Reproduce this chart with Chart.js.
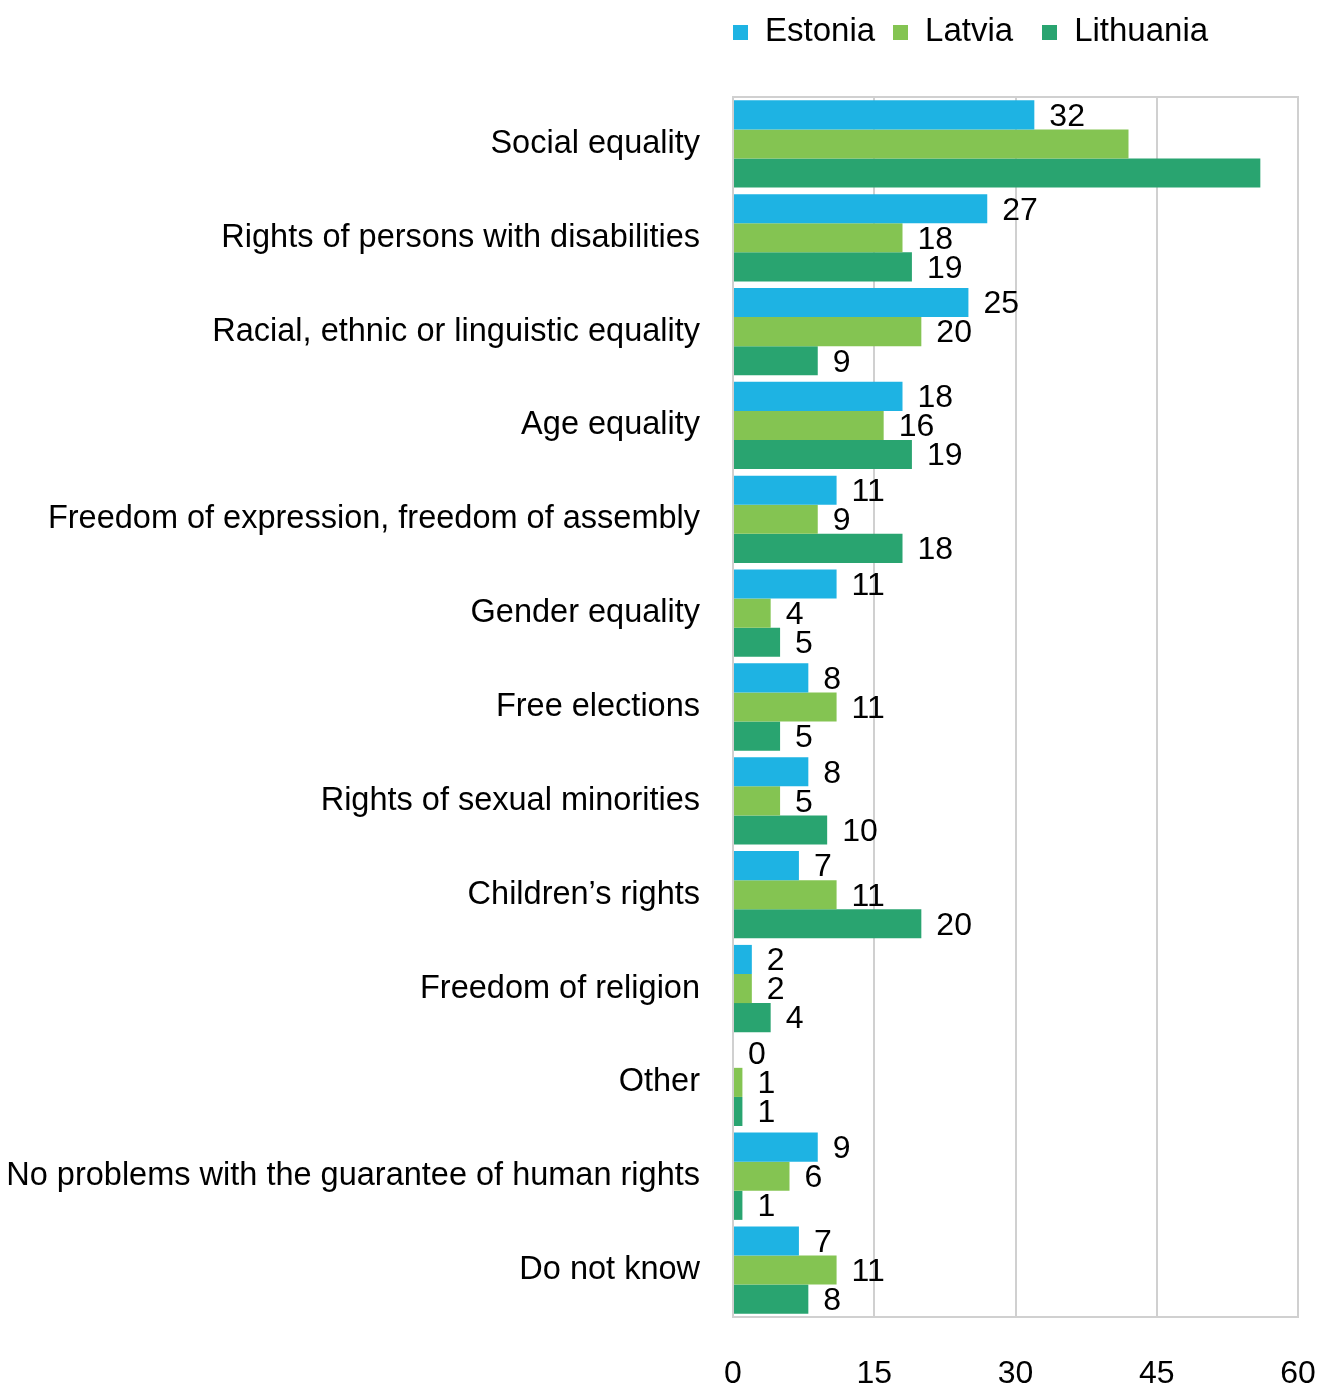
<!DOCTYPE html>
<html>
<head>
<meta charset="utf-8">
<script src="https://cdn.jsdelivr.net/npm/chart.js@4/dist/chart.umd.min.js"></script>
<style>
  html, body { margin: 0; padding: 0; background: #fff; }
  #wrap { position: relative; width: 1322px; height: 1389px; }
  #legend {
    position: absolute; top: 13px; left: 0;
    display: flex; align-items: flex-start;
    font-family: "Liberation Sans", Arial, sans-serif; font-size: 33px; line-height: 33px; color: #000;
  }
  .lg-item { display: flex; align-items: flex-start; white-space: nowrap; }
  .lg-box { width: 15px; height: 15px; margin-top: 12px; margin-right: 17px; }
</style>
</head>
<body>
<div id="wrap">
  <canvas id="chart" width="1322" height="1389"></canvas>
  <div id="legend"></div>
</div>
<script>
// Problems with the guarantee of human rights, % of respondents
const categories = [
  'Social equality',
  'Rights of persons with disabilities',
  'Racial, ethnic or linguistic equality',
  'Age equality',
  'Freedom of expression, freedom of assembly',
  'Gender equality',
  'Free elections',
  'Rights of sexual minorities',
  'Children\u2019s rights',
  'Freedom of religion',
  'Other',
  'No problems with the guarantee of human rights',
  'Do not know'
];
const estonia   = [32, 27, 25, 18, 11, 11, 8, 8, 7, 2, 0, 9, 7];
const latvia    = [42, 18, 20, 16,  9,  4, 11, 5, 11, 2, 1, 6, 11];
const lithuania = [56, 19,  9, 19, 18,  5,  5, 10, 20, 4, 1, 1, 8];
const xTicks = [0, 15, 30, 45, 60];
const seriesNames = ['Estonia', 'Latvia', 'Lithuania'];
const seriesColors = ['#1eb3e3', '#84c452', '#29a470'];
// bars printed without a value label: [series index, category index]
const unlabeled = [[1, 0], [2, 0]];

const FONT = '"Liberation Sans", Arial, sans-serif';

const valueLabels = {
  id: 'valueLabels',
  afterDatasetsDraw(chart) {
    const ctx = chart.ctx;
    ctx.save();
    ctx.font = '32px ' + FONT;
    ctx.fillStyle = '#000';
    ctx.textAlign = 'left';
    ctx.textBaseline = 'middle';
    chart.data.datasets.forEach((ds, di) => {
      chart.getDatasetMeta(di).data.forEach((bar, i) => {
        if (unlabeled.some(([d, c]) => d === di && c === i)) return;
        ctx.fillText(String(ds.data[i]), bar.x + 15, bar.y + 2);
      });
    });
    ctx.restore();
  }
};

const plotFrame = {
  id: 'plotFrame',
  afterDatasetsDraw(chart) {
    const a = chart.chartArea, ctx = chart.ctx;
    ctx.save();
    ctx.strokeStyle = '#d0d0d0';
    ctx.lineWidth = 2;
    ctx.strokeRect(a.left, a.top, a.right - a.left, a.bottom - a.top);
    ctx.restore();
  }
};

const htmlLegend = {
  id: 'htmlLegend',
  afterUpdate(chart) {
    const box = document.getElementById('legend');
    box.innerHTML = '';
    box.style.left = chart.chartArea.left + 'px';
    const gaps = [0, 18, 29];
    chart.data.datasets.forEach((ds, i) => {
      const item = document.createElement('div');
      item.className = 'lg-item';
      item.style.marginLeft = gaps[i] + 'px';
      const sq = document.createElement('span');
      sq.className = 'lg-box';
      sq.style.background = ds.backgroundColor;
      const txt = document.createElement('span');
      txt.textContent = ds.label;
      item.appendChild(sq);
      item.appendChild(txt);
      box.appendChild(item);
    });
  }
};

const series = [estonia, latvia, lithuania];

new Chart(document.getElementById('chart'), {
  type: 'bar',
  data: {
    labels: categories,
    datasets: series.map((values, i) => ({
      label: seriesNames[i],
      data: values,
      backgroundColor: seriesColors[i],
      borderWidth: 0,
      barPercentage: 1.0,
      categoryPercentage: 0.93
    }))
  },
  options: {
    indexAxis: 'y',
    responsive: false,
    animation: false,
    devicePixelRatio: 1,
    layout: { padding: { top: 97, right: 24, left: 0, bottom: 0 } },
    plugins: {
      legend: { display: false },
      tooltip: { enabled: false }
    },
    scales: {
      x: {
        min: 0,
        max: 60,
        afterBuildTicks(scale) { scale.ticks = xTicks.map(v => ({ value: v })); },
        afterFit(scale) {
          scale.height = 72;
          scale.paddingRight = 0;
          scale.paddingLeft = 0;
        },
        grid: { color: '#d0d0d0', lineWidth: 2, drawTicks: false },
        border: { display: false },
        ticks: {
          padding: 38,
          color: '#000',
          font: { family: FONT, size: 32 },
          maxRotation: 0
        }
      },
      y: {
        afterFit(scale) { scale.width = 733; },
        grid: { display: false, drawTicks: false },
        border: { display: false },
        ticks: {
          padding: 33,
          autoSkip: false,
          color: '#000',
          font: { family: FONT, size: 32.5 }
        }
      }
    }
  },
  plugins: [valueLabels, plotFrame, htmlLegend]
});
</script>
</body>
</html>
